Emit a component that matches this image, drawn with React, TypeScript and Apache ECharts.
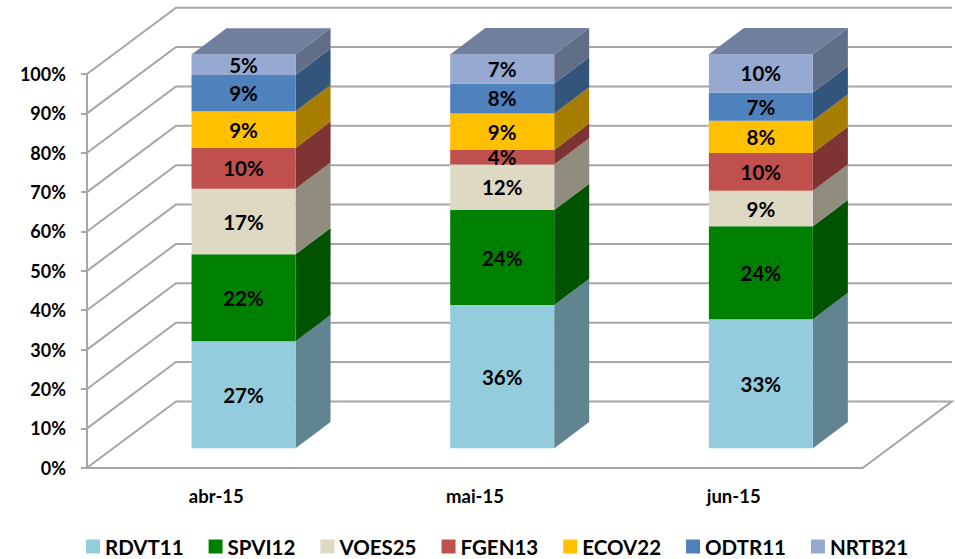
import React, { useEffect, useRef } from "react";
import * as echarts from "echarts";

const categories = ["abr-15", "mai-15", "jun-15"];
const yTicks = [0, 10, 20, 30, 40, 50, 60, 70, 80, 90, 100];

const RDVT11 = [27.2, 36.4, 32.8];
const SPVI12 = [22.1, 24.1, 23.6];
const VOES25 = [16.6, 11.6, 9.0];
const FGEN13 = [10.4, 3.7, 9.6];
const ECOV22 = [9.3, 9.25, 8.2];
const ODTR11 = [9.25, 7.6, 7.2];
const NRTB21 = [5.15, 7.4, 9.7];

const names = ["RDVT11", "SPVI12", "VOES25", "FGEN13", "ECOV22", "ODTR11", "NRTB21"];
const values = [RDVT11, SPVI12, VOES25, FGEN13, ECOV22, ODTR11, NRTB21];
const colors = ["#93CDDD", "#008000", "#DDD9C3", "#C0504D", "#FFC000", "#4F81BD", "#95A9D1"];

const FONT = "Lato";
const LINE = "#A6A6A6";
// Projection of the chart's depth axis on screen
const WALL_DX = 89;
const WALL_DY = -66.3;
const BAR_OFF_DX = 27.2;
const BAR_OFF_DY = -19.4;
const BAR_W = 104;
const BAR_DX = 35;
const BAR_DY = -26.3;

const shade = (hex: string, k: number) => {
  const n = parseInt(hex.slice(1), 16);
  const c = [(n >> 16) & 255, (n >> 8) & 255, n & 255].map((v) => Math.round(v * k));
  return `rgb(${c[0]},${c[1]},${c[2]})`;
};

const wallItem = (params: any, api: any) => {
  const v = api.value(1);
  const sys = params.coordSys;
  const p = api.coord([0, v]);
  const y = p[1];
  const x0 = sys.x;
  const x1 = sys.x + sys.width;
  const style = { stroke: LINE, lineWidth: 2, fill: "none" };
  const pts: number[][] =
    v === 0
      ? [
          [x1, y],
          [x1 + WALL_DX, y + WALL_DY],
          [x0 + WALL_DX, y + WALL_DY],
          [x0, y],
        ]
      : [
          [x0, y],
          [x0 + WALL_DX, y + WALL_DY],
          [x1 + WALL_DX, y + WALL_DY],
        ];
  return { type: "polyline", shape: { points: pts }, style, silent: true };
};

const makeBarItem = (index: number) => (_params: any, api: any) => {
  const cat = api.value(0);
  const start = api.value(1);
  const end = api.value(2);
  const val = api.value(3);
  const a = api.coord([cat, start]);
  const b = api.coord([cat, end]);
  const xl = a[0] + BAR_OFF_DX - BAR_W / 2;
  const xr = xl + BAR_W;
  const yb = a[1] + BAR_OFF_DY;
  const yt = b[1] + BAR_OFF_DY;
  const color = colors[index];
  const children: any[] = [
    {
      type: "polygon",
      shape: {
        points: [
          [xr, yb],
          [xr + BAR_DX, yb + BAR_DY],
          [xr + BAR_DX, yt + BAR_DY],
          [xr, yt],
        ],
      },
      style: { fill: shade(color, 0.65) },
    },
    {
      type: "rect",
      shape: { x: xl, y: yt, width: BAR_W, height: yb - yt },
      style: { fill: color },
    },
  ];
  if (index === names.length - 1) {
    children.push({
      type: "polygon",
      shape: {
        points: [
          [xl, yt],
          [xl + BAR_DX, yt + BAR_DY],
          [xr + BAR_DX, yt + BAR_DY],
          [xr, yt],
        ],
      },
      style: { fill: shade(color, 0.75) },
    });
  }
  children.push({
    type: "text",
    z2: 100,
    style: {
      x: (xl + xr) / 2,
      y: (yt + yb) / 2,
      text: `${Math.round(val)}%`,
      fill: "#000",
      font: `bold 20.5px ${FONT}`,
      align: "center",
      verticalAlign: "middle",
    },
  });
  return { type: "group", children };
};

export default function App() {
  const ref = useRef<HTMLDivElement>(null);
  useEffect(() => {
    document.body.style.margin = "0";
    const chart = echarts.init(ref.current!, null, { renderer: "svg" });
    const cum = categories.map(() => 0);
    const barSeries = names.map((name, i) => ({
      type: "custom",
      name,
      z: 3,
      itemStyle: { color: colors[i] },
      encode: { x: 0, y: [1, 2] },
      renderItem: makeBarItem(i),
      data: values[i].map((v, c) => {
        const row = [c, cum[c], cum[c] + v, v];
        cum[c] += v;
        return row;
      }),
    }));
    chart.setOption({
      animation: false,
      backgroundColor: "#fff",
      grid: { left: 87, right: 92, top: 74, bottom: 91.3 },
      legend: {
        data: names,
        left: 86,
        top: 536,
        padding: 0,
        icon: "rect",
        itemWidth: 14,
        itemHeight: 14,
        itemGap: 25,
        textStyle: { fontFamily: FONT, fontWeight: "bold", fontSize: 20.5, color: "#000" },
      },
      xAxis: {
        type: "category",
        data: categories,
        axisLine: { lineStyle: { color: LINE, width: 2 } },
        axisTick: { length: 6, lineStyle: { color: LINE, width: 2 } },
        axisLabel: { margin: 19, fontFamily: FONT, fontWeight: "bold", fontSize: 18.5, color: "#000" },
      },
      yAxis: {
        type: "value",
        min: 0,
        max: 100,
        interval: 10,
        axisLine: { show: true, lineStyle: { color: LINE, width: 2 } },
        axisTick: { show: true, length: 6, lineStyle: { color: LINE, width: 2 } },
        splitLine: { show: false },
        axisLabel: {
          margin: 21,
          padding: [2, 0, 0, 0],
          formatter: "{value}%",
          fontFamily: FONT,
          fontWeight: "bold",
          fontSize: 18,
          color: "#000",
        },
      },
      series: [
        {
          type: "custom",
          name: "walls",
          z: 1,
          silent: true,
          encode: { x: 0, y: 1 },
          renderItem: wallItem,
          data: yTicks.map((v) => [0, v]),
        },
        ...barSeries,
      ],
    });
    return () => chart.dispose();
  }, []);
  return <div ref={ref} style={{ width: 955, height: 559 }} />;
}
